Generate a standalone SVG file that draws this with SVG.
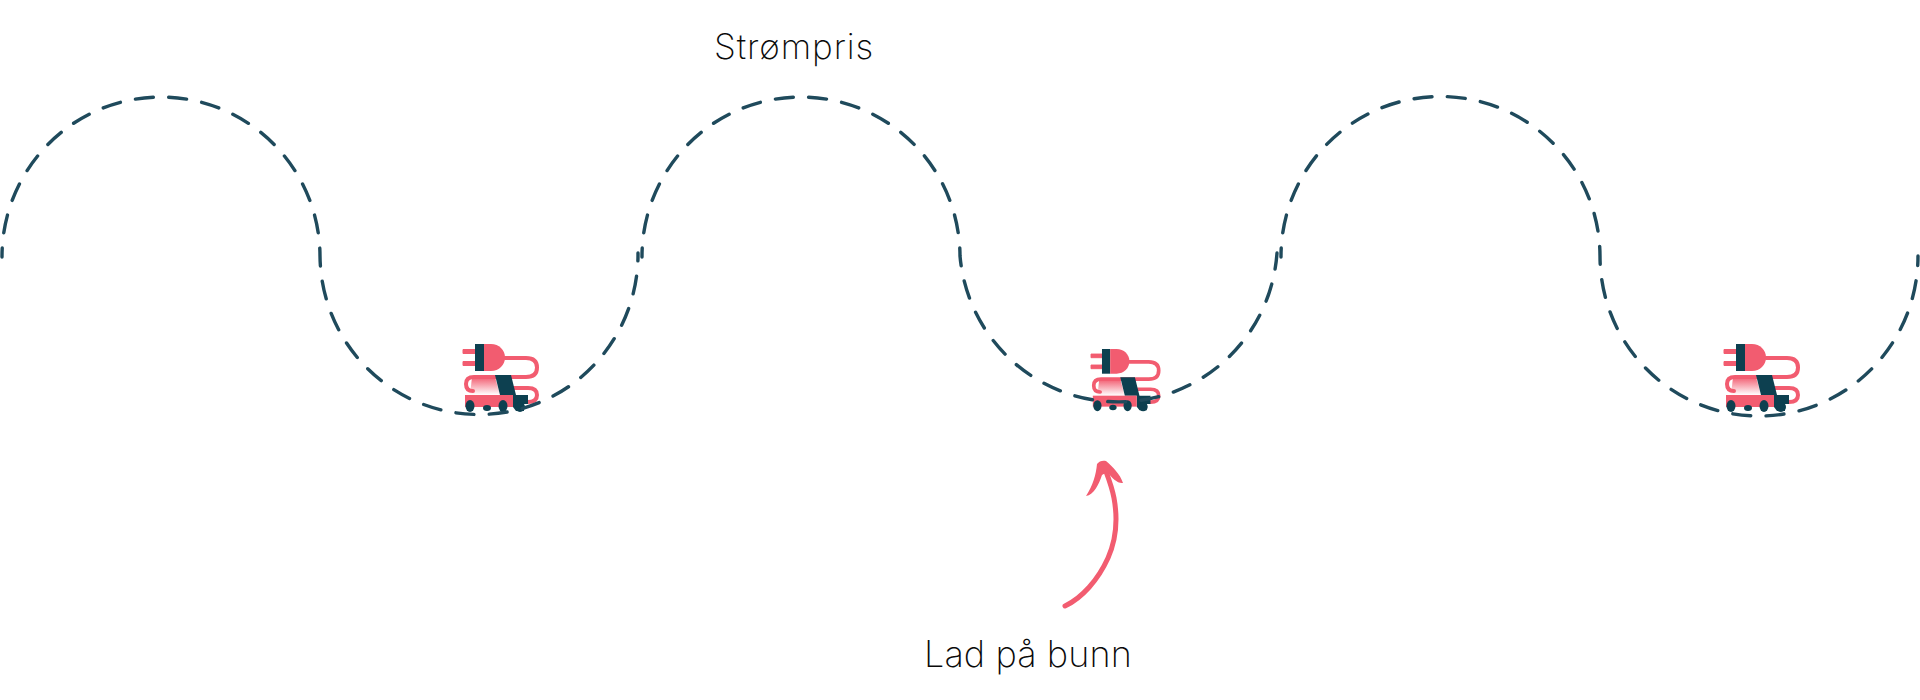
<svg xmlns="http://www.w3.org/2000/svg" width="1920" height="700" viewBox="0 0 1920 700">
<style>
.wave{fill:none;stroke:#1f4a5c;stroke-width:3.4;stroke-linecap:round;stroke-dasharray:18 15.4;stroke-dashoffset:9}
.lbl{font-family:"Inter","Liberation Sans",sans-serif;font-weight:250;fill:#0a0a0a}
.cord{fill:none;stroke:#f25c70;stroke-width:4;stroke-linecap:round}
.pink{fill:#f25c70}.dark{fill:#0d4050}
</style>
<defs>
<linearGradient id="fade" x1="0" y1="0" x2="0" y2="1"><stop offset="0" stop-color="#f25c70"/><stop offset="1" stop-color="#f25c70" stop-opacity="0"/></linearGradient>
<g id="icon">
<path class="cord" d="M505 358H526Q537 358 537 367.500Q537 377 526 377H474Q466 377 466 384Q466 391 473 391"/>
<path class="cord" d="M514 388H528Q537 388 537 395Q537 402 528 402H521"/>
<path class="pink" d="M463 349.500h13v4h-13zM463 361.500h13v4h-13z" stroke="#f25c70" stroke-linejoin="round"/>
<rect class="dark" x="475" y="344" width="9" height="27"/>
<path class="pink" d="M484 344H491C499 344 505 350 505 357.500C505 365 499 371 491 371H484Z"/>
<path d="M472 377H495L500 395H470Z" fill="url(#fade)"/>
<path class="dark" d="M495 375H511L516 395H528V404L524 404V411H516L513 407V395H500Z"/>
<rect class="pink" x="465" y="395" width="48" height="12"/>
<ellipse class="dark" cx="470" cy="406" rx="4.500" ry="6"/>
<ellipse class="dark" cx="487" cy="408" rx="4" ry="3"/>
<ellipse class="dark" cx="503" cy="406" rx="4.500" ry="6"/>
<ellipse class="dark" cx="520" cy="407" rx="5" ry="5"/>
</g>
</defs>
<g id="van-1"><use href="#icon"/></g>
<g id="van-2"><use href="#icon" transform="translate(1091 349) scale(0.915) translate(-463 -344)"/></g>
<g id="van-3"><use href="#icon" transform="translate(1261 0)"/></g>
<g id="connectors">
<path class="wave" d="M2 257A159 159.500 0 0 1 320 256A159 160 0 0 0 638 253"/>
<path class="wave" d="M642 257A159 159.500 0 0 1 960 256A159 160 0 0 0 1277 253"/>
<path class="wave" d="M1281 257A159 159.500 0 0 1 1600 256A159 160 0 0 0 1918 256"/>
<g id="arrow">
<path d="M1065 606C1082 598 1098 580 1108 558C1116 540 1118 520 1114 498C1112 487 1108 477 1104 466" fill="none" stroke="#f25c70" stroke-width="5" stroke-linecap="round"/>
<path class="pink" d="M1086 496C1093 485 1096 475 1097 464C1099 461 1103 460 1106 461C1113 467 1120 474 1123 483C1118 484 1112 478 1107 472L1102 475C1099 484 1094 495 1086 496Z"/>
</g>
</g>
<g id="label-price"><text class="lbl" x="714" y="59" font-size="35" letter-spacing="0.9">Strømpris</text></g>
<g id="label-charge"><text class="lbl" x="924" y="667" font-size="36" letter-spacing="0.1">Lad på bunn</text></g>
</svg>
